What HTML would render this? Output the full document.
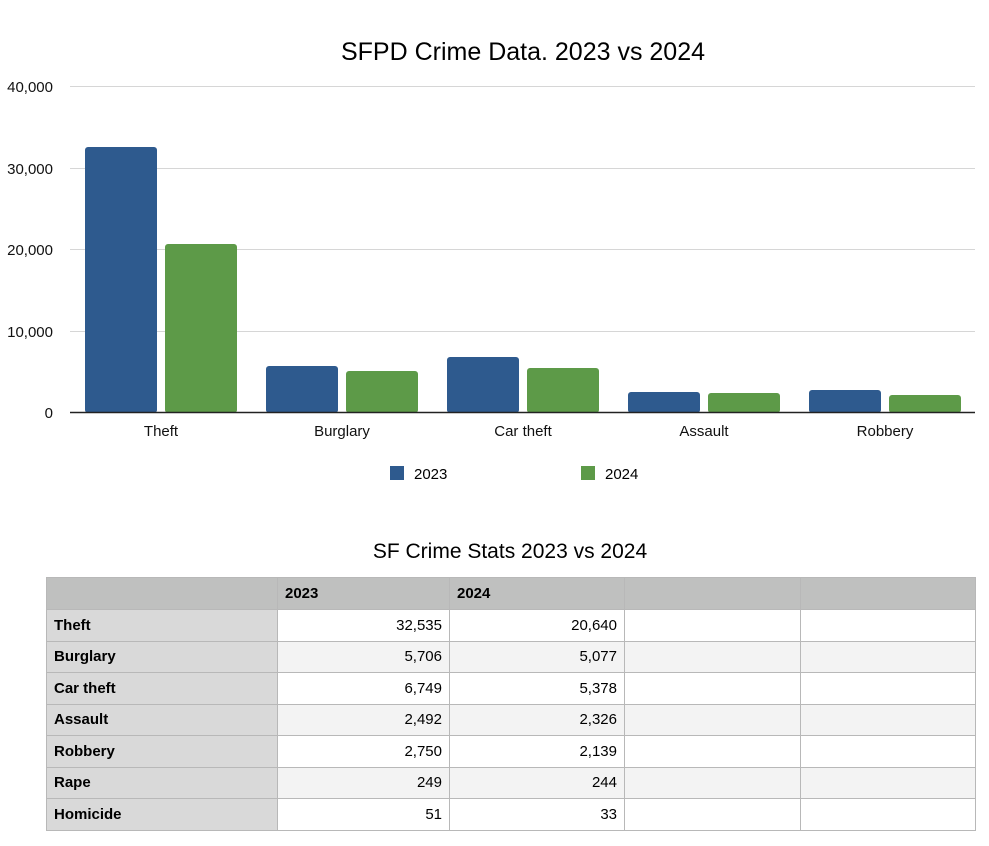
<!DOCTYPE html>
<html><head><style>
body{margin:0;background:#fff;font-family:"Liberation Sans",sans-serif;}
.t{position:absolute;}
table{position:absolute;left:46px;top:577px;border-collapse:collapse;font-size:15px;}
td{border:1px solid #b8b8b8;height:31.5px;padding:0 7px;box-sizing:border-box;}
tr.h td{background:#bfc0bf;font-weight:bold;height:32px;}
td.f{background:#d9d9d9;font-weight:bold;}
tr.a td{background:#f3f3f3;}
tr.a td.f{background:#d9d9d9;}
td.n{text-align:right;}
</style></head><body>
<div class="t" style="left:0;width:1046px;top:38px;text-align:center;font-size:25px;">SFPD Crime Data. 2023 vs 2024</div>
<svg class="t" style="left:0;top:0" width="989" height="500">
<g stroke="#d6d6d6" stroke-width="1">
<line x1="70" x2="975" y1="86.5" y2="86.5"/><line x1="70" x2="975" y1="168.5" y2="168.5"/>
<line x1="70" x2="975" y1="249.5" y2="249.5"/><line x1="70" x2="975" y1="331.5" y2="331.5"/>
</g>
<g font-size="15" text-anchor="end" fill="#111">
<text x="53" y="92">40,000</text><text x="53" y="174">30,000</text><text x="53" y="255">20,000</text><text x="53" y="337">10,000</text><text x="53" y="418">0</text>
</g>
<g fill="#2e5a8e">
<rect x="85" y="147" width="72" height="266" rx="3"/>
<rect x="266" y="366" width="72" height="47" rx="3"/>
<rect x="447" y="357" width="72" height="56" rx="3"/>
<rect x="628" y="392" width="72" height="21" rx="3"/>
<rect x="809" y="390" width="72" height="23" rx="3"/>
</g>
<g fill="#5d9a48">
<rect x="165" y="244" width="72" height="169" rx="3"/>
<rect x="346" y="371" width="72" height="42" rx="3"/>
<rect x="527" y="368" width="72" height="45" rx="3"/>
<rect x="708" y="393" width="72" height="20" rx="3"/>
<rect x="889" y="395" width="72" height="18" rx="3"/>
</g>
<line x1="70" x2="975" y1="412.5" y2="412.5" stroke="#222" stroke-width="1.5"/>
<g font-size="15" text-anchor="middle" fill="#111">
<text x="161" y="436">Theft</text><text x="342" y="436">Burglary</text><text x="523" y="436">Car theft</text><text x="704" y="436">Assault</text><text x="885" y="436">Robbery</text>
</g>
<rect x="390" y="466" width="14" height="14" fill="#2e5a8e"/><text x="414" y="479" font-size="15">2023</text>
<rect x="581" y="466" width="14" height="14" fill="#5d9a48"/><text x="605" y="479" font-size="15">2024</text>
</svg>
<div class="t" style="left:0;width:1020px;top:540px;text-align:center;font-size:21px;">SF Crime Stats 2023 vs 2024</div>
<table>
<colgroup><col style="width:231px"><col style="width:172px"><col style="width:175px"><col style="width:176px"><col style="width:175px"></colgroup>
<tr class="h"><td></td><td>2023</td><td>2024</td><td></td><td></td></tr>
<tr><td class="f">Theft</td><td class="n">32,535</td><td class="n">20,640</td><td></td><td></td></tr>
<tr class="a"><td class="f">Burglary</td><td class="n">5,706</td><td class="n">5,077</td><td></td><td></td></tr>
<tr><td class="f">Car theft</td><td class="n">6,749</td><td class="n">5,378</td><td></td><td></td></tr>
<tr class="a"><td class="f">Assault</td><td class="n">2,492</td><td class="n">2,326</td><td></td><td></td></tr>
<tr><td class="f">Robbery</td><td class="n">2,750</td><td class="n">2,139</td><td></td><td></td></tr>
<tr class="a"><td class="f">Rape</td><td class="n">249</td><td class="n">244</td><td></td><td></td></tr>
<tr><td class="f">Homicide</td><td class="n">51</td><td class="n">33</td><td></td><td></td></tr>
</table>
</body></html>
